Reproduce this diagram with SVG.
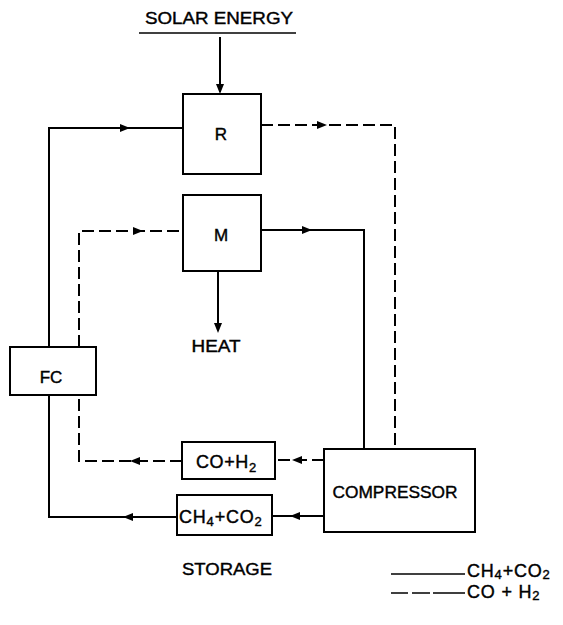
<svg xmlns="http://www.w3.org/2000/svg" xmlns:xlink="http://www.w3.org/1999/xlink" width="563" height="625" viewBox="0 0 563 625">
<style>
  .box { fill: #fff; stroke: #000; stroke-width: 2; }
  .ln { fill: none; stroke: #000; stroke-width: 2; }
  .dash { stroke-dasharray: 12 5; }
  .t { font-family: "Liberation Sans", Arial, sans-serif; font-size: 17px; fill: #000; stroke: #000; stroke-width: 0.4; text-anchor: middle; }
  .ts { font-family: "Liberation Sans", Arial, sans-serif; font-size: 18px; fill: #000; stroke: #000; stroke-width: 0.4; }
  .sub { font-size: 13px; }
</style>
<defs>
  <path id="ah" d="M0,0 L-10,-4 L-10,4 Z" fill="#000"/>
</defs>
<rect width="563" height="625" fill="#fff"/>

<g id="solar">
  <text class="t" x="219" y="24" font-size="18.5" textLength="148" lengthAdjust="spacingAndGlyphs">SOLAR ENERGY</text>
  <line x1="139" y1="33" x2="296" y2="33" stroke="#000" stroke-width="1.6"/>
</g>

<g id="connectors">
  <line class="ln" x1="220" y1="37" x2="220" y2="92"/>
  <use xlink:href="#ah" transform="translate(220,94) rotate(90)"/>

  <polyline class="ln" points="49,347 49,128 183,128"/>
  <use xlink:href="#ah" transform="translate(130,128)"/>

  <polyline class="ln dash" points="261,125 395,125 395,449"/>
  <use xlink:href="#ah" transform="translate(327,125)"/>

  <polyline class="ln dash" points="79,347 79,231 183,231"/>
  <use xlink:href="#ah" transform="translate(143,231)"/>

  <polyline class="ln" points="261,230 364,230 364,449"/>
  <use xlink:href="#ah" transform="translate(312,230)"/>

  <line class="ln" x1="218" y1="271" x2="218" y2="330"/>
  <use xlink:href="#ah" transform="translate(218,333) rotate(90)"/>

  <line class="ln dash" x1="324" y1="460" x2="275" y2="460"/>
  <use xlink:href="#ah" transform="translate(292,460) rotate(180)"/>

  <polyline class="ln dash" points="182,461 79,461 79,395"/>
  <use xlink:href="#ah" transform="translate(130,461) rotate(180)"/>

  <line class="ln" x1="324" y1="516" x2="272" y2="516"/>
  <use xlink:href="#ah" transform="translate(290,516) rotate(180)"/>

  <polyline class="ln" points="177,517 49,517 49,395"/>
  <use xlink:href="#ah" transform="translate(123,517) rotate(180)"/>
</g>

<g id="R">
  <rect class="box" x="183" y="94" width="78" height="80"/>
  <text class="t" x="221" y="140" font-size="16">R</text>
</g>

<g id="M">
  <rect class="box" x="183" y="195" width="78" height="76"/>
  <text class="t" x="221" y="241" font-size="16">M</text>
</g>

<g id="heat">
  <text class="t" x="216" y="352" textLength="49" lengthAdjust="spacingAndGlyphs">HEAT</text>
</g>

<g id="FC">
  <rect class="box" x="10" y="347" width="86" height="48"/>
  <text class="t" x="51" y="383" font-size="18">FC</text>
</g>

<g id="coh2">
  <rect class="box" x="182" y="442" width="93" height="37"/>
  <text class="ts" x="196" y="468" letter-spacing="0.6">CO+H<tspan class="sub" dy="4">2</tspan></text>
</g>

<g id="ch4co2">
  <rect class="box" x="177" y="495" width="95" height="40"/>
  <text class="ts" x="179" y="523" letter-spacing="0.8">CH<tspan class="sub" dy="3">4</tspan><tspan dy="-3">+CO</tspan><tspan class="sub" dy="3">2</tspan></text>
</g>

<g id="compressor">
  <rect class="box" x="324" y="449" width="151" height="83"/>
  <text class="t" x="395" y="498" font-size="18" textLength="125" lengthAdjust="spacingAndGlyphs">COMPRESSOR</text>
</g>

<g id="storage">
  <text class="t" x="227" y="575" font-size="18" textLength="90" lengthAdjust="spacingAndGlyphs">STORAGE</text>
</g>

<g id="legend">
  <line x1="391" y1="574" x2="465" y2="574" stroke="#000" stroke-width="1.6"/>
  <text class="ts" x="467" y="577" font-size="16" letter-spacing="0.8">CH<tspan class="sub" font-size="12" dy="2">4</tspan><tspan dy="-2">+CO</tspan><tspan class="sub" font-size="12" dy="2">2</tspan></text>
  <line x1="391" y1="593" x2="465" y2="593" stroke="#000" stroke-width="1.6" stroke-dasharray="17 4 18 3 32 0"/>
  <text class="ts" x="467" y="598" font-size="16" letter-spacing="0.8">CO + H<tspan class="sub" font-size="12" dy="2">2</tspan></text>
</g>
</svg>
